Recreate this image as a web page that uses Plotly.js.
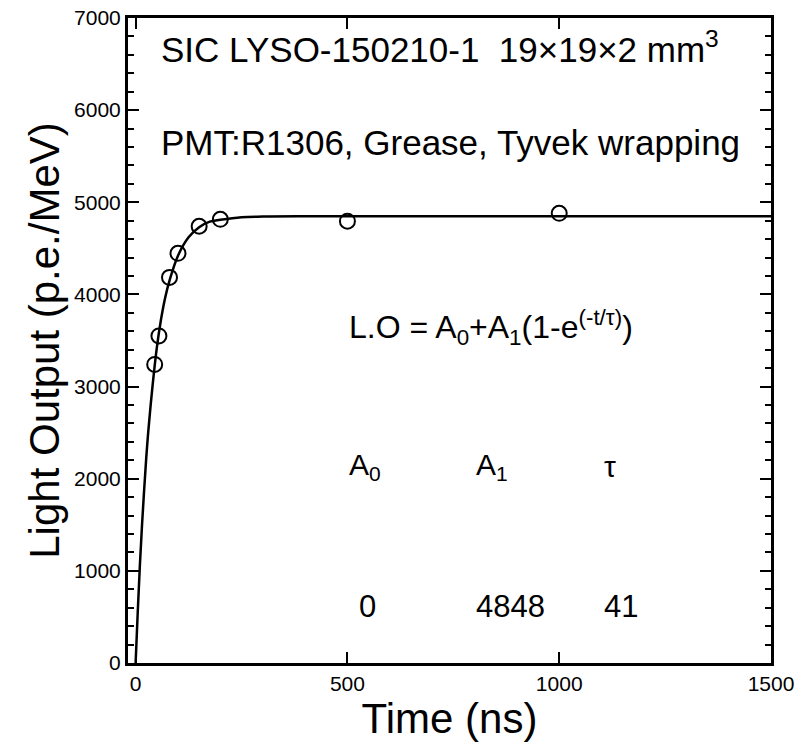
<!DOCTYPE html>
<html>
<head>
<meta charset="utf-8">
<script src="https://cdn.plot.ly/plotly-3.0.1.min.js"></script>
<style>html,body{margin:0;padding:0;background:#fff;}#chart{width:808px;height:750px;}</style>
</head>
<body>
<div id="chart"></div>
<script>
var timeNs = [45, 55, 80, 100, 150, 200, 500, 1000];
var lightOutput = [3240, 3550, 4185, 4446, 4740, 4815, 4795, 4880];

// Fit curve as drawn
var fitTime = [0, 5, 10, 15, 20, 25, 30, 40, 50, 60, 70, 80, 100, 125, 150, 175, 200, 250, 300, 400, 600, 1000, 1500];
var fitLO = [0, 554, 1057, 1489, 1872, 2220, 2520, 3010, 3420, 3730, 3970, 4150, 4420, 4620, 4730, 4790, 4810, 4838, 4845, 4848, 4848, 4848, 4848];

var xTickVals = [0, 500, 1000, 1500];
var yTickVals = [0, 1000, 2000, 3000, 4000, 5000, 6000, 7000];

var paramNames = ["A<sub>0</sub>", "A<sub>1</sub>", "\u03c4"];
var paramValues = ["0", "4848", "41"];
var paramX = [500, 800, 1100];

var FONT = "Liberation Sans, Arial, Helvetica, sans-serif";

var traces = [
  {
    x: fitTime, y: fitLO, type: "scatter", mode: "lines",
    line: {color: "#000", width: 2.5, shape: "spline"},
    hoverinfo: "skip", showlegend: false
  },
  {
    x: timeNs, y: lightOutput, type: "scatter", mode: "markers",
    marker: {symbol: "circle-open", size: 15, color: "#000", line: {color: "#000", width: 2}},
    showlegend: false
  }
];

var annotations = [
  {x: 55, y: 6680, xref: "x", yref: "y", xanchor: "left", yanchor: "middle", showarrow: false,
   text: "SIC LYSO-150210-1  19\u00d719\u00d72 mm<sup>3</sup>", font: {family: FONT, size: 35, color: "#000"}},
  {x: 55, y: 5650, xref: "x", yref: "y", xanchor: "left", yanchor: "middle", showarrow: false,
   text: "PMT:R1306, Grease, Tyvek wrapping", font: {family: FONT, size: 35, color: "#000"}},
  {x: 500, y: 3640, xref: "x", yref: "y", xanchor: "left", yanchor: "middle", showarrow: false,
   text: "L.O = A<sub>0</sub>+A<sub>1</sub>(1-e<sup>(-t/\u03c4)</sup>)", font: {family: FONT, size: 32, color: "#000"}}
];
for (var i = 0; i < paramNames.length; i++) {
  annotations.push({x: paramX[i], y: 2130, xref: "x", yref: "y", xanchor: "left", yanchor: "middle", showarrow: false,
    text: paramNames[i], font: {family: FONT, size: 30, color: "#000"}});
  annotations.push({x: paramX[i] + (i === 0 ? 22 : 0), y: 610, xref: "x", yref: "y", xanchor: "left", yanchor: "middle", showarrow: false,
    text: paramValues[i], font: {family: FONT, size: 31, color: "#000"}});
}

var axisCommon = {
  showline: true, linecolor: "#000", linewidth: 3, mirror: "allticks",
  ticks: "inside", tickcolor: "#000", tickwidth: 2, ticklen: 11,
  showgrid: false, zeroline: false,
  tickfont: {family: FONT, size: 21, color: "#000"}
};

var layout = {
  width: 808, height: 750,
  margin: {l: 128, r: 37, t: 18, b: 87},
  paper_bgcolor: "#fff", plot_bgcolor: "#fff",
  font: {family: FONT, color: "#000"},
  xaxis: Object.assign({}, axisCommon, {
    range: [-18, 1500], tickvals: xTickVals, ticktext: xTickVals.map(String),
    title: {text: "Time (ns)", font: {family: FONT, size: 42, color: "#000"}, standoff: 8}
  }),
  yaxis: Object.assign({}, axisCommon, {
    range: [0, 7000], tickvals: yTickVals, ticktext: yTickVals.map(String),
    minor: {tickvals: [200,400,600,800,1200,1400,1600,1800,2200,2400,2600,2800,3200,3400,3600,3800,4200,4400,4600,4800,5200,5400,5600,5800,6200,6400,6600,6800], ticks: "inside", ticklen: 6, tickcolor: "#000", tickwidth: 2, showgrid: false},
    title: {text: "Light Output (p.e./MeV)", font: {family: FONT, size: 42, color: "#000"}, standoff: 2}
  }),
  annotations: annotations
};

Plotly.newPlot("chart", traces, layout, {displayModeBar: false, staticPlot: true});
</script>
</body>
</html>
